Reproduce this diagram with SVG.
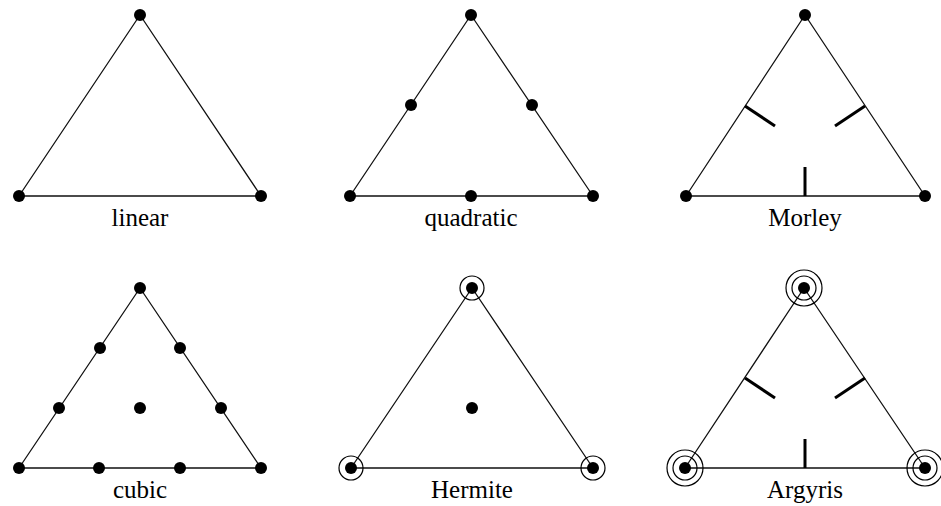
<svg xmlns="http://www.w3.org/2000/svg" width="941" height="506" viewBox="0 0 941 506">
<style>
.edge{fill:none;stroke:#111;stroke-width:1.3;stroke-linejoin:round}
.dot{fill:#000}
.ring{fill:none;stroke:#000;stroke-width:1.2}
.tick{stroke:#000;stroke-width:3;stroke-linecap:butt}
.lbl{font-family:"Liberation Serif","Times New Roman",serif;font-size:25px;fill:#000;text-anchor:middle}
</style>
<rect width="941" height="506" fill="#fff"/>
<g id="edges">
<polygon class="edge" points="140,15 19,196 261,196"/>
<polygon class="edge" points="471,15 350,196 593,196"/>
<polygon class="edge" points="805,15 686,196 925,196"/>
<polygon class="edge" points="140,288 19,468 261,468"/>
<polygon class="edge" points="472,288 351,468 593,468"/>
<polygon class="edge" points="804,288 685,468 925,468"/>
</g>
<g id="linear">
<circle class="dot" cx="140" cy="15" r="6"/>
<circle class="dot" cx="19" cy="196" r="6"/>
<circle class="dot" cx="261" cy="196" r="6"/>
<text class="lbl" x="140" y="226">linear</text>
</g>
<g id="quadratic">
<circle class="dot" cx="471" cy="15" r="6"/>
<circle class="dot" cx="350" cy="196" r="6"/>
<circle class="dot" cx="593" cy="196" r="6"/>
<circle class="dot" cx="411" cy="105" r="6"/>
<circle class="dot" cx="532" cy="105" r="6"/>
<circle class="dot" cx="471" cy="196" r="6"/>
<text class="lbl" x="471" y="226">quadratic</text>
</g>
<g id="morley">
<circle class="dot" cx="805" cy="15" r="6"/>
<circle class="dot" cx="686" cy="196" r="6"/>
<circle class="dot" cx="925" cy="196" r="6"/>
<line class="tick" x1="745" y1="106" x2="775" y2="126"/>
<line class="tick" x1="865" y1="106" x2="835" y2="126"/>
<line class="tick" x1="805" y1="196" x2="805" y2="167"/>
<text class="lbl" x="805" y="226">Morley</text>
</g>
<g id="cubic">
<circle class="dot" cx="140" cy="288" r="6"/>
<circle class="dot" cx="19" cy="468" r="6"/>
<circle class="dot" cx="261" cy="468" r="6"/>
<circle class="dot" cx="100" cy="348" r="6"/>
<circle class="dot" cx="180" cy="348" r="6"/>
<circle class="dot" cx="59" cy="408" r="6"/>
<circle class="dot" cx="221" cy="408" r="6"/>
<circle class="dot" cx="99" cy="468" r="6"/>
<circle class="dot" cx="180" cy="468" r="6"/>
<circle class="dot" cx="140" cy="408" r="6"/>
<text class="lbl" x="140" y="498">cubic</text>
</g>
<g id="hermite">
<circle class="dot" cx="472" cy="288" r="6"/>
<circle class="ring" cx="472" cy="288" r="12"/>
<circle class="dot" cx="351" cy="468" r="6"/>
<circle class="ring" cx="351" cy="468" r="12"/>
<circle class="dot" cx="593" cy="468" r="6"/>
<circle class="ring" cx="593" cy="468" r="12"/>
<circle class="dot" cx="472" cy="408" r="6"/>
<text class="lbl" x="472" y="498">Hermite</text>
</g>
<g id="argyris">
<circle class="dot" cx="804" cy="288" r="6"/>
<circle class="ring" cx="804" cy="288" r="12"/>
<circle class="ring" cx="804" cy="288" r="18"/>
<circle class="dot" cx="685" cy="468" r="6"/>
<circle class="ring" cx="685" cy="468" r="12"/>
<circle class="ring" cx="685" cy="468" r="18"/>
<circle class="dot" cx="925" cy="468" r="6"/>
<circle class="ring" cx="925" cy="468" r="12"/>
<circle class="ring" cx="925" cy="468" r="18"/>
<line class="tick" x1="745" y1="378" x2="775" y2="398"/>
<line class="tick" x1="865" y1="378" x2="835" y2="398"/>
<line class="tick" x1="805" y1="468" x2="805" y2="439"/>
<text class="lbl" x="805" y="498">Argyris</text>
</g>
</svg>
